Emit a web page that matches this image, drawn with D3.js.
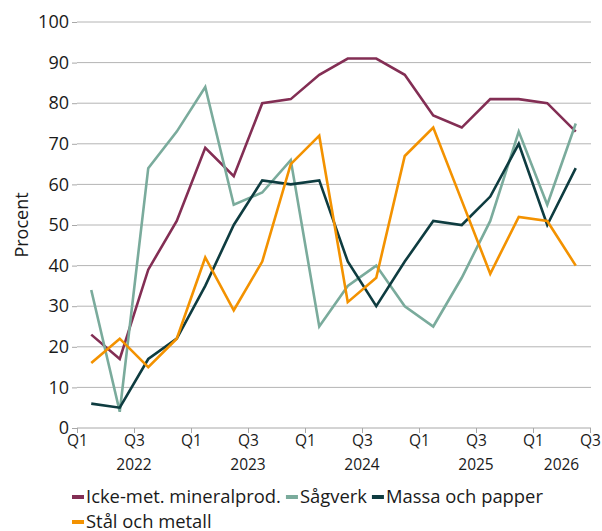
<!DOCTYPE html>
<html lang="sv">
<head>
<meta charset="utf-8">
<script src="https://d3js.org/d3.v7.min.js"></script>
<style>
  body { margin: 0; background: #fff; }
  text { font-family: "Open Sans", sans-serif; fill: #1a1a1a; }
</style>
</head>
<body>
<div id="chart"></div>
<script>
// quarters Q1 2022 .. Q2 2026
const quarters = ["2022Q1","2022Q2","2022Q3","2022Q4","2023Q1","2023Q2","2023Q3","2023Q4",
  "2024Q1","2024Q2","2024Q3","2024Q4","2025Q1","2025Q2","2025Q3","2025Q4","2026Q1","2026Q2"];
const years = ["2022", "2023", "2024", "2025", "2026"];
const yTicks = [0, 10, 20, 30, 40, 50, 60, 70, 80, 90, 100];

const ickeMet = [23, 17, 39, 51, 69, 62, 80, 81, 87, 91, 91, 87, 77, 74, 81, 81, 80, 73];
const sagverk = [34, 4, 64, 73, 84, 55, 58, 66, 25, 35, 40, 30, 25, 37, 51, 73, 55, 75];
const massa   = [6, 5, 17, 22, 35, 50, 61, 60, 61, 41, 30, 41, 51, 50, 57, 70, 50, 64];
const stal    = [16, 22, 15, 22, 42, 29, 41, 65, 72, 31, 37, 67, 74, 56, 38, 52, 51, 40];

const series = [
  { name: "Icke-met. mineralprod.", values: ickeMet, color: "#832e54" },
  { name: "Sågverk", values: sagverk, color: "#7aab9c" },
  { name: "Massa och papper", values: massa, color: "#0e3c40" },
  { name: "Stål och metall", values: stal, color: "#f39200" }
];

const width = 602, height = 531;
const plotLeft = 77, plotRight = 590, plotTop = 22, plotBottom = 428;

const svg = d3.select("#chart").append("svg")
  .attr("width", width).attr("height", height);

const x = d3.scaleLinear().domain([0, quarters.length]).range([plotLeft, plotRight]);
const y = d3.scaleLinear().domain([0, 100]).range([plotBottom, plotTop]);

// gridlines + y labels
const yAxis = d3.axisLeft(y).tickValues(yTicks).tickSize(5).tickPadding(3);
const gy = svg.append("g").attr("transform", "translate(" + plotLeft + ",0)").call(yAxis);
gy.select(".domain").remove();
gy.selectAll("line").attr("stroke", "#a8a8a8");
gy.selectAll("text").style("font-size", "18px").attr("fill", "#1a1a1a");

svg.append("g").selectAll("line")
  .data(yTicks.filter(d => d > 0))
  .join("line")
  .attr("x1", plotLeft).attr("x2", plotRight + 1)
  .attr("y1", d => y(d)).attr("y2", d => y(d))
  .attr("stroke", "#b4b4b4").attr("stroke-width", 1);

// x axis: ticks on quarter edges, Q1 / Q3 labels
const xTickVals = d3.range(0, quarters.length + 1, 2);
const xAxis = d3.axisBottom(x).tickValues(xTickVals).tickSize(5).tickPadding(2)
  .tickFormat(d => (d % 4 === 0) ? "Q1" : "Q3");
const gx = svg.append("g").attr("transform", "translate(0," + plotBottom + ")").call(xAxis);
gx.select(".domain").attr("stroke", "#a8a8a8").attr("d", "M" + plotLeft + ",0H" + (plotRight + 1));
gx.selectAll("line").attr("stroke", "#a8a8a8");
gx.selectAll("text").style("font-size", "15.5px").attr("fill", "#1a1a1a");

// year labels centred on each year's quarters
svg.append("g").selectAll("text")
  .data(years)
  .join("text")
  .attr("x", yr => {
    const idx = quarters.map((q, i) => q.startsWith(yr) ? i : -1).filter(i => i >= 0);
    return x((idx[0] + idx[idx.length - 1] + 1) / 2);
  })
  .attr("y", 470)
  .attr("text-anchor", "middle")
  .style("font-size", "15.5px")
  .text(d => d);

// y title
svg.append("text")
  .attr("transform", "translate(28," + ((plotTop + plotBottom) / 2) + ") rotate(-90)")
  .attr("text-anchor", "middle")
  .style("font-size", "18px")
  .text("Procent");

// lines
const line = d3.line()
  .x((d, i) => x(i + 0.5))
  .y(d => y(d));

svg.append("g").selectAll("path")
  .data(series)
  .join("path")
  .attr("d", s => line(s.values))
  .attr("fill", "none")
  .attr("stroke", s => s.color)
  .attr("stroke-width", 2.6)
  .attr("stroke-linejoin", "miter");

// legend (wrapping)
const legend = svg.append("g");
let lx = 72, ly = 497;
series.forEach(s => {
  const g = legend.append("g");
  g.append("rect").attr("x", 0).attr("y", -2).attr("width", 12).attr("height", 4).attr("fill", s.color);
  const t = g.append("text").attr("x", 14).attr("y", 0).attr("dy", "0.35em")
    .style("font-size", "18.4px").text(s.name);
  const w = 14 + t.node().getComputedTextLength() + 5;
  if (lx + w > width - 10) { lx = 72; ly += 25; }
  g.attr("transform", "translate(" + lx + "," + ly + ")");
  lx += w;
});
</script>
</body>
</html>
